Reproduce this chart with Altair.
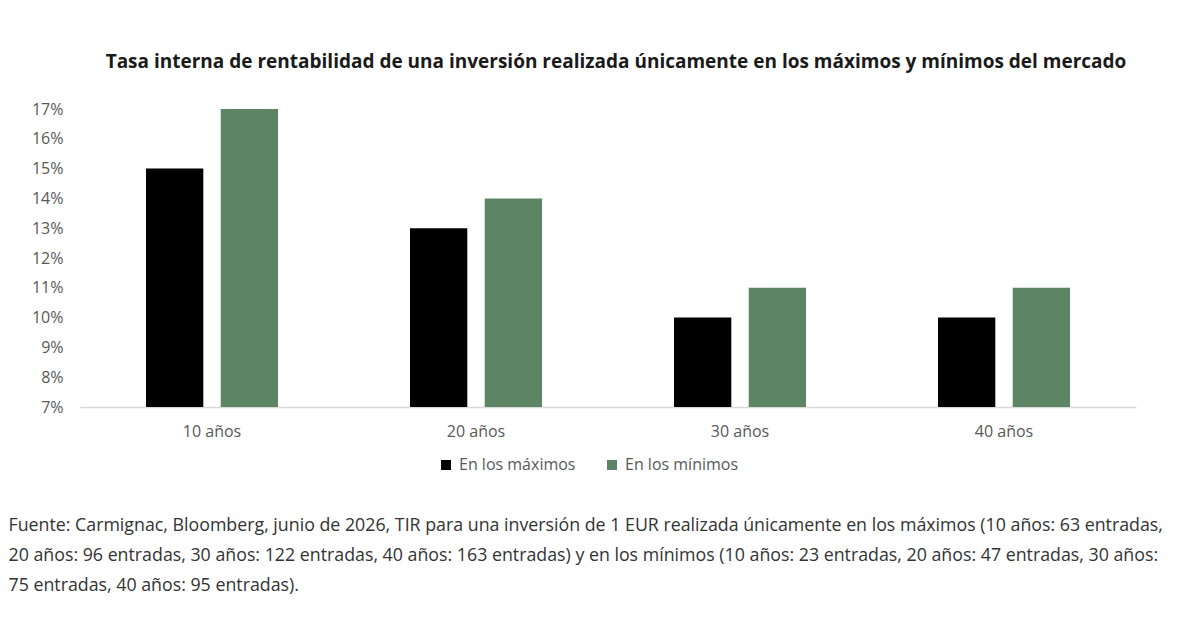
import altair as alt
import pandas as pd

periodos = ["10 años", "20 años", "30 años", "40 años"]
series = ["En los máximos", "En los mínimos"]
maximos = [0.15, 0.13, 0.10, 0.10]
minimos = [0.17, 0.14, 0.11, 0.11]
colores = ["#000000", "#5E8466"]
y_ticks = [0.07, 0.08, 0.09, 0.10, 0.11, 0.12, 0.13, 0.14, 0.15, 0.16, 0.17]

titulo = "Tasa interna de rentabilidad de una inversión realizada únicamente en los máximos y mínimos del mercado"
nota = [
    "Fuente: Carmignac, Bloomberg, junio de 2026, TIR para una inversión de 1 EUR realizada únicamente en los máximos (10 años: 63 entradas,",
    "20 años: 96 entradas, 30 años: 122 entradas, 40 años: 163 entradas) y en los mínimos (10 años: 23 entradas, 20 años: 47 entradas, 30 años:",
    "75 entradas, 40 años: 95 entradas).",
]

rows = []
for p, a, b in zip(periodos, maximos, minimos):
    rows.append({"periodo": p, "serie": series[0], "valor": a})
    rows.append({"periodo": p, "serie": series[1], "valor": b})
df = pd.DataFrame(rows)

FONT = "Open Sans"

bars = alt.Chart(df).mark_bar().encode(
    x=alt.X("periodo:N", sort=periodos, title=None,
            scale=alt.Scale(paddingInner=0.5, paddingOuter=0.25),
            axis=alt.Axis(labelAngle=0, ticks=False, domainColor="#d9d9d9",
                          domainWidth=1.5, labelFontSize=16, labelColor="#595959",
                          labelPadding=16, labelFont=FONT)),
    xOffset=alt.XOffset("serie:N", sort=series,
                        scale=alt.Scale(paddingInner=0.233, paddingOuter=0)),
    y=alt.Y("valor:Q", title=None,
            scale=alt.Scale(domain=[0.07, 0.17], zero=False, nice=False),
            axis=alt.Axis(values=y_ticks, format=".0%", grid=False, ticks=False,
                          domain=False, labelFontSize=16, labelColor="#595959",
                          labelPadding=17, labelFont=FONT)),
    y2=alt.datum(0.07),
    color=alt.Color("serie:N", sort=series,
                    scale=alt.Scale(domain=series, range=colores),
                    legend=alt.Legend(title=None, orient="none", direction="horizontal",
                                      legendX=358, legendY=348,
                                      symbolType="square", symbolSize=100,
                                      symbolStrokeWidth=0,
                                      labelFontSize=16, labelColor="#595959",
                                      labelFont=FONT, labelOffset=5,
                                      columnPadding=28)),
).properties(
    width=1056, height=298,
    title=alt.TitleParams(titulo, fontSize=19, fontWeight="bold", color="#1a1a1a",
                          font=FONT, anchor="middle", offset=29, dx=8),
)

chart = alt.vconcat(bars).properties(
    title=alt.TitleParams(nota, orient="bottom", anchor="start", fontSize=17.8,
                          fontWeight="normal", color="#333333", font=FONT,
                          lineHeight=30, offset=44, dx=-23),
    padding={"left": 0, "top": 45, "right": 0, "bottom": 0},
).configure_view(stroke=None).configure_concat(spacing=0)

chart.save("out.html", embed_options={"renderer": "svg", "actions": False})
